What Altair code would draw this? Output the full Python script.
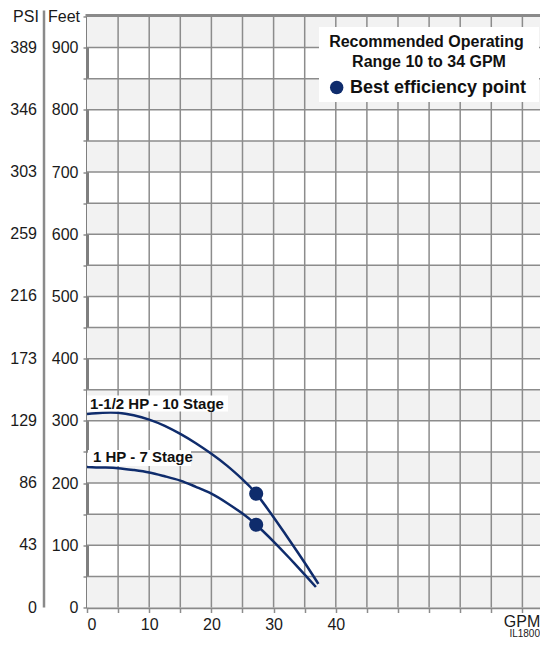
import altair as alt
import pandas as pd

# ---- data ----
gpm_15 = [0, 2.5, 5, 7.5, 10, 12.5, 15, 17.5, 20, 22.5, 25, 27.2, 30, 32.5, 35, 37.2]
feet_15 = [311, 313, 313, 309, 302, 292, 279, 264, 247, 228, 206, 183, 145, 109, 72, 38]
gpm_1 = [0, 2.5, 5, 7.5, 10, 12.5, 15, 17.5, 20, 22.5, 25, 27.2, 30, 32.5, 35, 36.8]
feet_1 = [226, 225, 224, 221, 217, 211, 204, 194, 183, 168, 151, 133, 106, 80, 53, 33]
bep_gpm = [27.2, 27.2]
bep_feet = [183, 133]

feet_ticks = list(range(0, 951, 50))
feet_labels = [0, 100, 200, 300, 400, 500, 600, 700, 800, 900]
psi_labels = [0, 43, 86, 129, 173, 216, 259, 303, 346, 389]
band_lo = [0, 100, 200, 300, 400, 500, 600, 700, 800, 900]
gpm_ticks = list(range(0, 71, 5))
gpm_labels = [0, 10, 20, 30, 40]

curve_names = ["1-1/2 HP - 10 Stage", "1 HP - 7 Stage"]

# ---- layout ----
W, H = 453, 591
FONT = "Liberation Sans"
NAVY = "#0f2c6c"
GRID = "#8c8c8c"

xs = alt.Scale(domain=[0, 72.83], nice=False, zero=False)
ys = alt.Scale(domain=[0, 950], nice=False, zero=False)

xaxis = alt.Axis(
    values=gpm_ticks,
    labelExpr=f"indexof({gpm_labels}, datum.value) >= 0 ? datum.label : ''",
    title=None, grid=False, domainColor="#8a8a8a", domainWidth=2.5,
    tickColor=GRID, tickWidth=1.5, tickSize=5, labelPadding=4,
    labelFont=FONT, labelFontSize=16, labelColor="#1a1a1a",
)
yaxis = alt.Axis(
    values=feet_ticks,
    labelExpr=f"indexof({feet_labels}, datum.value) >= 0 ? datum.label : ''",
    title=None, grid=False, domainColor="#7f7f7f", domainWidth=3,
    tickColor=GRID, tickWidth=1.5, tickSize=4, labelPadding=5,
    labelFont=FONT, labelFontSize=16, labelColor="#1a1a1a",
)

one = alt.Data(values=[{}])

bands = alt.Chart(pd.DataFrame({"lo": band_lo, "hi": [b + 50 for b in band_lo]})).mark_rect(
    color="#f2f2f2"
).encode(
    y=alt.Y("lo:Q", scale=ys, axis=yaxis), y2="hi:Q",
    x=alt.value(0), x2=alt.value(W),
)

grid_v = alt.Chart(pd.DataFrame({"g": gpm_ticks[1:]})).mark_rule(
    color=GRID, strokeWidth=1.5
).encode(
    x=alt.X("g:Q", scale=xs, axis=xaxis), y=alt.value(0), y2=alt.value(H)
)

grid_h = alt.Chart(pd.DataFrame({"f": feet_ticks[1:-1]})).mark_rule(
    color=GRID, strokeWidth=1.5
).encode(
    y=alt.Y("f:Q", scale=ys, axis=yaxis), x=alt.value(0), x2=alt.value(W)
)

top_rule = alt.Chart(one).mark_rule(color="#8a8a8a", strokeWidth=3).encode(
    y=alt.value(-1), x=alt.value(-1.5), x2=alt.value(W)
)

psi_rule = alt.Chart(one).mark_rule(color="#8a8a8a", strokeWidth=2.5).encode(
    x=alt.value(-43), y=alt.value(-6), y2=alt.value(H)
)

psi_text = alt.Chart(pd.DataFrame({"f": feet_labels, "psi": psi_labels})).mark_text(
    align="right", baseline="middle", font=FONT, fontSize=16, color="#1a1a1a"
).encode(
    y=alt.Y("f:Q", scale=ys, axis=yaxis), x=alt.value(-50), text="psi:Q"
)

curves_df = pd.concat([
    pd.DataFrame({"gpm": gpm_15, "feet": feet_15, "curve": curve_names[0]}),
    pd.DataFrame({"gpm": gpm_1, "feet": feet_1, "curve": curve_names[1]}),
])
lines = alt.Chart(curves_df).mark_line(
    color=NAVY, strokeWidth=2.5, interpolate="natural"
).encode(
    x=alt.X("gpm:Q", scale=xs, axis=xaxis),
    y=alt.Y("feet:Q", scale=ys, axis=yaxis),
    detail="curve:N",
)

dots = alt.Chart(pd.DataFrame({"gpm": bep_gpm, "feet": bep_feet})).mark_circle(
    color=NAVY, opacity=1, size=200
).encode(
    x=alt.X("gpm:Q", scale=xs, axis=xaxis),
    y=alt.Y("feet:Q", scale=ys, axis=yaxis),
)


def box(x1, x2, y1, y2):
    return alt.Chart(one).mark_rect(color="white").encode(
        x=alt.value(x1), x2=alt.value(x2), y=alt.value(y1), y2=alt.value(y2)
    )


def txt(s, x, y, size, bold=False, align="left", color="#111111"):
    return alt.Chart(one).mark_text(
        text=s, align=align, baseline="middle", font=FONT, fontSize=size,
        fontWeight="bold" if bold else "normal", color=color
    ).encode(x=alt.value(x), y=alt.value(y))


label_boxes = box(0, 141, 379, 395) + box(1, 104, 433.5, 449.5)
label_texts = txt(curve_names[0], 3, 387, 15, True) + txt(curve_names[1], 6, 440.5, 15, True)

legend_box = box(232, 452, 10.5, 85.5)
legend_dot = alt.Chart(one).mark_circle(color=NAVY, opacity=1, size=180).encode(
    x=alt.value(249.7), y=alt.value(71)
)
legend_texts = (
    txt("Recommended Operating", 339.5, 25.5, 16, True, "center")
    + txt("Range 10 to 34 GPM", 342, 45.5, 16, True, "center")
    + txt("Best efficiency point", 263, 71.5, 18, True)
)

titles = (
    txt("PSI", -61, 0, 16, False, "center", "#1a1a1a")
    + txt("Feet", -39, 0, 16, False, "left", "#1a1a1a")
    + txt("GPM", 435, 605, 16, False, "center", "#1a1a1a")
    + txt("IL1800", W, 617.5, 10, False, "right", "#1a1a1a")
)

chart = alt.layer(
    bands, grid_v, grid_h, top_rule, psi_rule, psi_text, lines, dots,
    label_boxes, label_texts, legend_box, legend_dot, legend_texts, titles
).properties(
    width=W, height=H,
    autosize=alt.AutoSizeParams(type="none"),
    padding={"left": 79, "top": 8.5, "right": 0, "bottom": 33},
    background="white",
).configure_view(stroke=None)

chart.save("out.html", embed_options={"renderer": "svg", "actions": False})
